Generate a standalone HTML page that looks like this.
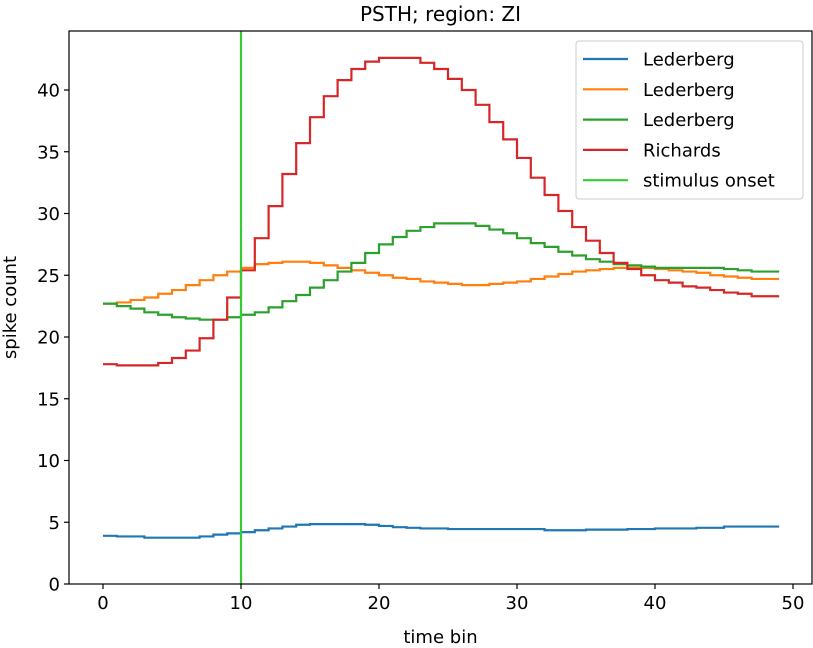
<!DOCTYPE html>
<html><head><meta charset="utf-8"><style>
html,body{margin:0;padding:0;background:#fff;}
svg{display:block;font-family:"DejaVu Sans","Liberation Sans",sans-serif;}
</style></head><body>
<svg id="chart" width="813" height="648" viewBox="0 0 813 648" xmlns="http://www.w3.org/2000/svg"></svg>
<script>
const xTicks = [0, 10, 20, 30, 40, 50];
const yTicks = [0, 5, 10, 15, 20, 25, 30, 35, 40];
const stimulusOnset = 10;
const seriesNames = ["Lederberg", "Lederberg", "Lederberg", "Richards"];
const blueVals = [3.9,3.85,3.85,3.75,3.75,3.75,3.75,3.85,4.0,4.1,4.2,4.35,4.5,4.65,4.8,4.85,4.85,4.85,4.85,4.8,4.7,4.6,4.55,4.5,4.5,4.45,4.45,4.45,4.45,4.45,4.45,4.45,4.35,4.35,4.35,4.4,4.4,4.4,4.45,4.45,4.5,4.5,4.5,4.55,4.55,4.65,4.65,4.65,4.65];
const orangeVals = [22.7,22.8,23.0,23.2,23.5,23.8,24.2,24.6,25.0,25.3,25.6,25.9,26.0,26.1,26.1,26.0,25.8,25.6,25.4,25.2,25.0,24.8,24.7,24.5,24.4,24.3,24.2,24.2,24.3,24.4,24.5,24.7,24.9,25.1,25.3,25.4,25.5,25.6,25.6,25.6,25.5,25.4,25.3,25.2,25.0,24.9,24.8,24.7,24.7];
const greenVals = [22.7,22.5,22.3,22.0,21.8,21.6,21.5,21.4,21.4,21.6,21.8,22.0,22.4,22.9,23.4,24.0,24.6,25.3,26.0,26.8,27.5,28.1,28.6,28.9,29.2,29.2,29.2,29.0,28.7,28.4,28.0,27.6,27.3,26.9,26.6,26.3,26.1,25.9,25.8,25.7,25.6,25.6,25.6,25.6,25.6,25.5,25.4,25.3,25.3];
const redVals = [17.8,17.7,17.7,17.7,17.9,18.3,18.9,19.9,21.4,23.2,25.4,28.0,30.6,33.2,35.7,37.8,39.5,40.8,41.7,42.3,42.6,42.6,42.6,42.2,41.7,40.9,40.0,38.8,37.4,36.0,34.5,32.9,31.5,30.2,28.9,27.8,26.8,26.0,25.5,25.0,24.6,24.4,24.1,24.0,23.8,23.6,23.5,23.3,23.3];

const NS="http://www.w3.org/2000/svg";
const svg=document.getElementById('chart');
const L=69,R=812,T=31,B=584;
const X=v=>103+(v)*13.8;
const Y=v=>584-v*12.35;
function mk(tag,attrs,parent){const e=document.createElementNS(NS,tag);for(const k in attrs)e.setAttribute(k,attrs[k]);(parent||svg).appendChild(e);return e;}

const series=[{vals:blueVals,color:"#1f77b4"},{vals:orangeVals,color:"#ff7f0e"},{vals:greenVals,color:"#2ca02c"},{vals:redVals,color:"#d62728"}];
series.forEach((s,si)=>{
  let d="";
  s.vals.forEach((v,i)=>{d+=(i===0?"M":"L")+X(i)+","+Y(v)+" L"+X(i+1)+","+Y(v)+" ";});
  const p=mk('path',{d:d,fill:"none",stroke:s.color,"stroke-width":2.2});
  
  
});
const sl=mk('line',{x1:X(stimulusOnset),x2:X(stimulusOnset),y1:T,y2:B,stroke:"#32cd32","stroke-width":2.2});



const frame=mk('rect',{x:L,y:T,width:R-L,height:B-T,fill:"none",stroke:"#000","stroke-width":1.2});



xTicks.forEach(t=>{
  const tk=mk('line',{x1:X(t),x2:X(t),y1:B,y2:B+5,stroke:"#000","stroke-width":1.2});
  
  
  const tx=mk('text',{x:X(t),y:B+25,"text-anchor":"middle","font-size":18});
  tx.textContent=t;
  
  
});
yTicks.forEach(t=>{
  const tk=mk('line',{x1:L-5,x2:L,y1:Y(t),y2:Y(t),stroke:"#000","stroke-width":1.2});
  
  
  const tx=mk('text',{x:L-9,y:Y(t)+6.5,"text-anchor":"end","font-size":18});
  tx.textContent=t;
  
  
});
const title=mk('text',{x:(L+R)/2,y:21,"text-anchor":"middle","font-size":20});
title.textContent="PSTH; region: ZI";


const xl=mk('text',{x:(L+R)/2,y:643,"text-anchor":"middle","font-size":18});
xl.textContent="time bin";


const yl=mk('text',{x:0,y:0,"text-anchor":"middle","font-size":18,transform:"translate(16,"+((T+B)/2)+") rotate(-90)"});
yl.textContent="spike count";



const lg=mk('g',{});


mk('rect',{x:576,y:41,width:227,height:158,rx:3,fill:"#fff","fill-opacity":0.8,stroke:"#ccc","stroke-width":1},lg);
const legendItems=[...seriesNames.map((n,i)=>({name:n,color:series[i].color})),{name:"stimulus onset",color:"#32cd32"}];
legendItems.forEach((it,i)=>{
  const yy=59+i*30.3;
  const g=mk('g',{},lg);
  
  
  mk('line',{x1:583,x2:628,y1:yy,y2:yy,stroke:it.color,"stroke-width":2.2},g);
  const t=mk('text',{x:643,y:yy+6.5,"font-size":18},g);
  t.textContent=it.name;
});
</script>
</body></html>
